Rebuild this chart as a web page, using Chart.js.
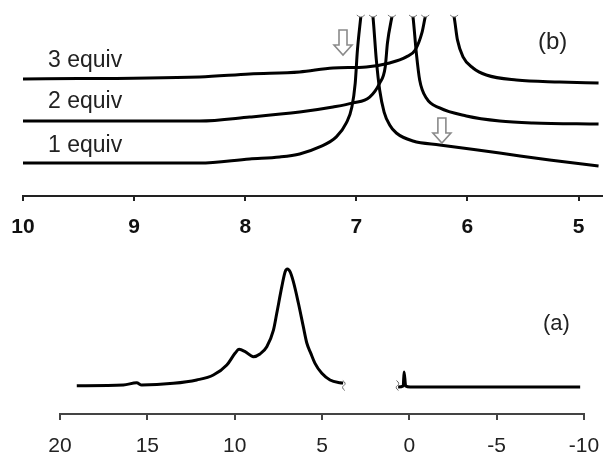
<!DOCTYPE html>
<html>
<head>
<meta charset="utf-8">
<script src="https://cdn.jsdelivr.net/npm/chart.js"></script>
<style>
  body { margin: 0; background: #fff; }
  #wrap { position: relative; width: 603px; height: 458px; }
  canvas { position: absolute; left: 0; }
</style>
</head>
<body>
<div id="wrap">
  <canvas id="topChart" width="603" height="240" style="top:0"></canvas>
  <canvas id="bottomChart" width="603" height="218" style="top:240px"></canvas>
</div>
<script>
// (b) expanded region, ppm vs. intensity (peaks run off the top)
const ticksB = [10, 9, 8, 7, 6, 5];
const equiv1X = [10.0, 8.41, 7.96, 7.69, 7.51, 7.33, 7.18, 7.09, 7.04, 7.01, 6.99, 6.96, 6.91, 6.85, 6.82, 6.79, 6.75, 6.70, 6.64, 6.49, 6.25, 5.71, 5.26, 4.82];
const equiv1Y = [18.4, 18.4, 20.7, 21.8, 23.5, 27.4, 33.0, 40.8, 49.7, 63.1, 81.6, 100, 130, 100, 76.0, 59.2, 46.9, 39.7, 35.2, 30.7, 28.5, 24.0, 20.1, 16.8];
const equiv2X = [10.0, 8.41, 7.96, 7.51, 7.21, 7.03, 6.88, 6.79, 6.74, 6.72, 6.68, 6.58, 6.49, 6.46, 6.43, 6.37, 6.25, 6.01, 5.71, 5.41, 4.82];
const equiv2Y = [41.9, 41.9, 44.1, 46.9, 49.7, 52.0, 55.3, 63.1, 72.1, 85.5, 100, 130, 100, 79.9, 64.8, 54.7, 49.2, 44.7, 41.9, 40.8, 40.2];
const equiv3X = [10.0, 8.41, 7.96, 7.51, 7.21, 6.91, 6.70, 6.55, 6.47, 6.41, 6.38, 6.25, 6.12, 6.09, 6.04, 5.95, 5.83, 5.56, 5.17, 4.82];
const equiv3Y = [65.4, 66.5, 68.2, 69.3, 71.5, 72.1, 74.3, 77.7, 81.6, 91.1, 100, 130, 100, 87.2, 77.7, 71.5, 67.6, 64.8, 63.7, 63.1];

// (a) full spectrum, gap between ~3.8 and ~0.6 ppm
const ticksA = [20, 15, 10, 5, 0, -5, -10];
const spectrumAX = [19.04, 16.37, 15.61, 15.32, 13.51, 12.17, 11.22, 10.45, 9.98, 9.75, 9.40, 8.93, 8.55, 8.16, 7.78, 7.59, 7.30, 7.11, 6.98, 6.83, 6.64, 6.35, 6.07, 5.87, 5.64, 5.40, 5.01, 4.54, 3.96, 3.79, 2.0, 0.64, 0.35, 0.30, 0.21, -0.05, -9.78];
const spectrumAY = [18.4, 18.8, 20.3, 18.8, 19.9, 22.1, 25.3, 31.8, 39.4, 42.0, 40.5, 37.2, 39.0, 43.7, 54.5, 65.4, 82.7, 92.4, 94.2, 92.4, 85.9, 71.9, 56.7, 46.1, 39.4, 32.9, 26.4, 22.1, 20.3, 20.1, null, 17.5, 18.2, 27.3, 18.2, 17.5, 17.5];

const pairs = (xs, ys) => xs.map((x, i) => ({ x: x, y: ys[i] }));
const FONT = 'Liberation Sans, Arial, sans-serif';

function downArrow(ctx, cx, top, tip) {
  const sw = 4, hw = 9, hh = 10;
  ctx.beginPath();
  ctx.moveTo(cx - sw, top);
  ctx.lineTo(cx + sw, top);
  ctx.lineTo(cx + sw, tip - hh);
  ctx.lineTo(cx + hw, tip - hh);
  ctx.lineTo(cx, tip);
  ctx.lineTo(cx - hw, tip - hh);
  ctx.lineTo(cx - sw, tip - hh);
  ctx.closePath();
  ctx.fillStyle = '#fff';
  ctx.fill();
  ctx.strokeStyle = '#8a8a8a';
  ctx.lineWidth = 1.6;
  ctx.stroke();
}

const topLabels = {
  id: 'topLabels',
  afterDatasetsDraw(chart) {
    const ctx = chart.ctx, xs = chart.scales.x, ys = chart.scales.y;
    const top = chart.chartArea.top;
    ctx.save();
    // little break marks where each trace leaves the frame
    ctx.strokeStyle = '#777';
    ctx.lineWidth = 1;
    chart.data.datasets.forEach(ds => {
      for (let i = 1; i < ds.data.length; i++) {
        const a = ds.data[i - 1], b = ds.data[i];
        if ((a.y <= 100) !== (b.y <= 100)) {
          const t = (100 - a.y) / (b.y - a.y);
          const px = xs.getPixelForValue(a.x + t * (b.x - a.x));
          ctx.beginPath();
          ctx.moveTo(px - 4, top - 2);
          ctx.quadraticCurveTo(px, top + 2, px + 4, top - 2);
          ctx.stroke();
        }
      }
    });
    ctx.fillStyle = '#222';
    ctx.font = '23px ' + FONT;
    ctx.textBaseline = 'alphabetic';
    ctx.fillText('3 equiv', 48, ys.getPixelForValue(72.3));
    ctx.fillText('2 equiv', 48, ys.getPixelForValue(48.9));
    ctx.fillText('1 equiv', 48, ys.getPixelForValue(24.7));
    ctx.font = '24px ' + FONT;
    ctx.fillText('(b)', 538, 49);
    downArrow(ctx, xs.getPixelForValue(7.12), 30, 55);
    downArrow(ctx, xs.getPixelForValue(6.23), 118, 143);
    ctx.restore();
  }
};

const bottomLabels = {
  id: 'bottomLabels',
  afterDatasetsDraw(chart) {
    const ctx = chart.ctx, xs = chart.scales.x, ys = chart.scales.y;
    ctx.save();
    // small break squiggles either side of the gap
    ctx.strokeStyle = '#666';
    ctx.lineWidth = 1;
    [3.75, 0.68].forEach(v => {
      const px = xs.getPixelForValue(v), py = ys.getPixelForValue(18.5);
      ctx.beginPath();
      ctx.moveTo(px - 1, py - 5);
      ctx.quadraticCurveTo(px + 3, py - 2, px, py);
      ctx.quadraticCurveTo(px - 3, py + 2, px + 1, py + 5);
      ctx.stroke();
    });
    ctx.fillStyle = '#222';
    ctx.font = '22px ' + FONT;
    ctx.fillText('(a)', 543, 90);
    ctx.restore();
  }
};

const lineStyle = { borderColor: '#000', borderWidth: 3, cubicInterpolationMode: 'monotone' };

new Chart(document.getElementById('topChart'), {
  type: 'line',
  data: {
    datasets: [
      Object.assign({ label: '1 equiv', data: pairs(equiv1X, equiv1Y) }, lineStyle),
      Object.assign({ label: '2 equiv', data: pairs(equiv2X, equiv2Y) }, lineStyle),
      Object.assign({ label: '3 equiv', data: pairs(equiv3X, equiv3Y) }, lineStyle)
    ]
  },
  options: {
    responsive: false,
    animation: false,
    devicePixelRatio: 1,
    layout: { padding: { left: 23, right: 0, top: 17, bottom: 0 } },
    plugins: { legend: { display: false }, tooltip: { enabled: false } },
    elements: { point: { radius: 0 } },
    scales: {
      x: {
        type: 'linear', reverse: true, min: 4.78, max: 10,
        afterBuildTicks: s => { s.ticks = ticksB.map(v => ({ value: v })); },
        afterFit: s => { s.height = 44; s.paddingLeft = 0; s.paddingRight = 0; },
        grid: { drawOnChartArea: false, drawTicks: true, tickLength: 5, color: '#222', lineWidth: 2 },
        border: { display: true, color: '#222', width: 2 },
        ticks: { padding: 14, color: '#111', maxRotation: 0, autoSkip: false,
                 font: { family: FONT, size: 21, weight: 'bold' } }
      },
      y: { display: false, min: 0, max: 100 }
    }
  },
  plugins: [topLabels]
});

new Chart(document.getElementById('bottomChart'), {
  type: 'line',
  data: {
    datasets: [
      Object.assign({ label: '(a)', data: pairs(spectrumAX, spectrumAY), spanGaps: false }, lineStyle)
    ]
  },
  options: {
    responsive: false,
    animation: false,
    devicePixelRatio: 1,
    layout: { padding: { left: 60, right: 19, top: 20, bottom: 0 } },
    plugins: { legend: { display: false }, tooltip: { enabled: false } },
    elements: { point: { radius: 0 } },
    scales: {
      x: {
        type: 'linear', reverse: true, min: -10, max: 20,
        afterBuildTicks: s => { s.ticks = ticksA.map(v => ({ value: v })); },
        afterFit: s => { s.height = 44; s.paddingLeft = 0; s.paddingRight = 0; },
        grid: { drawOnChartArea: false, drawTicks: true, tickLength: 6, color: '#444', lineWidth: 2 },
        border: { display: true, color: '#444', width: 2 },
        ticks: { padding: 14, color: '#222', maxRotation: 0, autoSkip: false,
                 font: { family: FONT, size: 21 } }
      },
      y: { display: false, min: 0, max: 100 }
    }
  },
  plugins: [bottomLabels]
});
</script>
</body>
</html>
